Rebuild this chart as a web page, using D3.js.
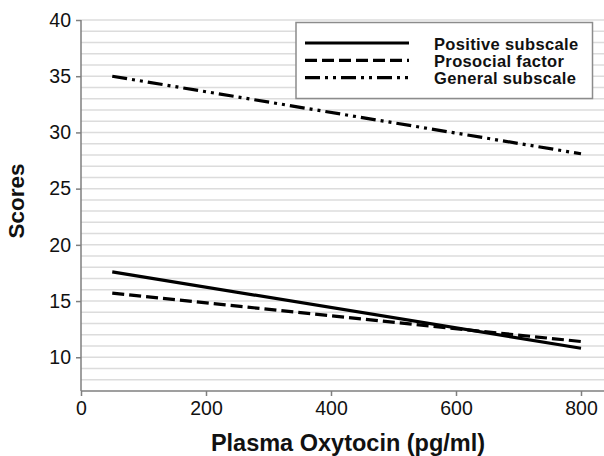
<!DOCTYPE html>
<html>
<head>
<meta charset="utf-8">
<script src="https://cdn.jsdelivr.net/npm/d3@7"></script>
<style>
  body { margin: 0; background: #fff; }
  svg { display: block; font-family: "Liberation Sans", Arial, sans-serif; }
</style>
</head>
<body>
<svg width="604" height="456"></svg>
<script>
// valori
const seriesNames = ["Positive subscale", "Prosocial factor", "General subscale"];
const oxytocin = [50, 800];
const positive = [17.6, 10.8];
const prosocial = [15.7, 11.4];
const general = [35.0, 28.1];
const xTicks = [0, 200, 400, 600, 800];
const yTicks = [10, 15, 20, 25, 30, 35, 40];

const dashes = ["none", "12,5", "15,5,3,5,3,5"];
const seriesValues = [positive, prosocial, general];

let svg = d3.select("svg");

let x = d3.scaleLinear().domain([0, 836.8]).range([81, 604]);
let y = d3.scaleLinear().domain([7, 40]).range([391, 20]);

// liniile de grid (din 1 in 1)
svg.append("g")
  .selectAll("line")
  .data(d3.range(8, 41))
  .enter()
  .append("line")
  .attr("x1", x(0)).attr("x2", 604)
  .attr("y1", d => y(d)).attr("y2", d => y(d))
  .attr("stroke", "#dcdcdc")
  .attr("stroke-width", 1.5);

// axe
let yAxis = svg.append("g")
  .attr("transform", `translate(${x(0)},0)`)
  .call(d3.axisLeft(y).tickValues(yTicks).tickSize(5).tickPadding(5));
let xAxis = svg.append("g")
  .attr("transform", `translate(0,${y(7)})`)
  .call(d3.axisBottom(x).tickValues(xTicks).tickSize(5).tickPadding(5));

[xAxis, yAxis].forEach(a => {
  a.attr("font-size", null).attr("font-family", null);
  a.select(".domain").attr("stroke", "#7f7f7f").attr("stroke-width", 1.5);
  a.selectAll(".tick line").attr("stroke", "#7f7f7f").attr("stroke-width", 1.5);
  a.selectAll("text")
    .attr("fill", "#111")
    .style("font-size", "19.5px");
});
yAxis.select(".domain").attr("d", `M0,${y(7)}V${y(40)}`);
xAxis.select(".domain").attr("d", `M${x(0)},0H604`);

// seriile
let line = d3.line().x(d => x(d[0])).y(d => y(d[1]));
seriesValues.forEach((vals, i) => {
  svg.append("path")
    .datum(oxytocin.map((o, j) => [o, vals[j]]))
    .attr("d", line)
    .attr("fill", "none")
    .attr("stroke", "#000")
    .attr("stroke-width", 3.2)
    .attr("stroke-dasharray", dashes[i]);
});

// legenda
let leg = svg.append("g");
leg.append("rect")
  .attr("x", 296).attr("y", 22.5)
  .attr("width", 296.5).attr("height", 76)
  .attr("fill", "#fff")
  .attr("stroke", "#8c8c8c")
  .attr("stroke-width", 1.5);
seriesNames.forEach((name, i) => {
  let cy = 43 + i * 17.3;
  leg.append("line")
    .attr("x1", 305).attr("x2", 409)
    .attr("y1", cy).attr("y2", cy)
    .attr("stroke", "#000")
    .attr("stroke-width", 3.2)
    .attr("stroke-dasharray", dashes[i]);
  leg.append("text")
    .attr("x", 434).attr("y", cy + 6.5)
    .attr("font-size", "16.5px")
    .attr("font-weight", "bold")
    .attr("letter-spacing", "0.35px")
    .attr("fill", "#111")
    .text(name);
});

// titlurile axelor
svg.append("text")
  .attr("x", 348).attr("y", 451)
  .attr("text-anchor", "middle")
  .attr("font-size", "23.5px")
  .attr("font-weight", "bold")
  .attr("fill", "#111")
  .text("Plasma Oxytocin (pg/ml)");

svg.append("text")
  .attr("transform", "translate(24,201) rotate(-90)")
  .attr("text-anchor", "middle")
  .attr("font-size", "22.5px")
  .attr("font-weight", "bold")
  .attr("fill", "#111")
  .text("Scores");
</script>
</body>
</html>
